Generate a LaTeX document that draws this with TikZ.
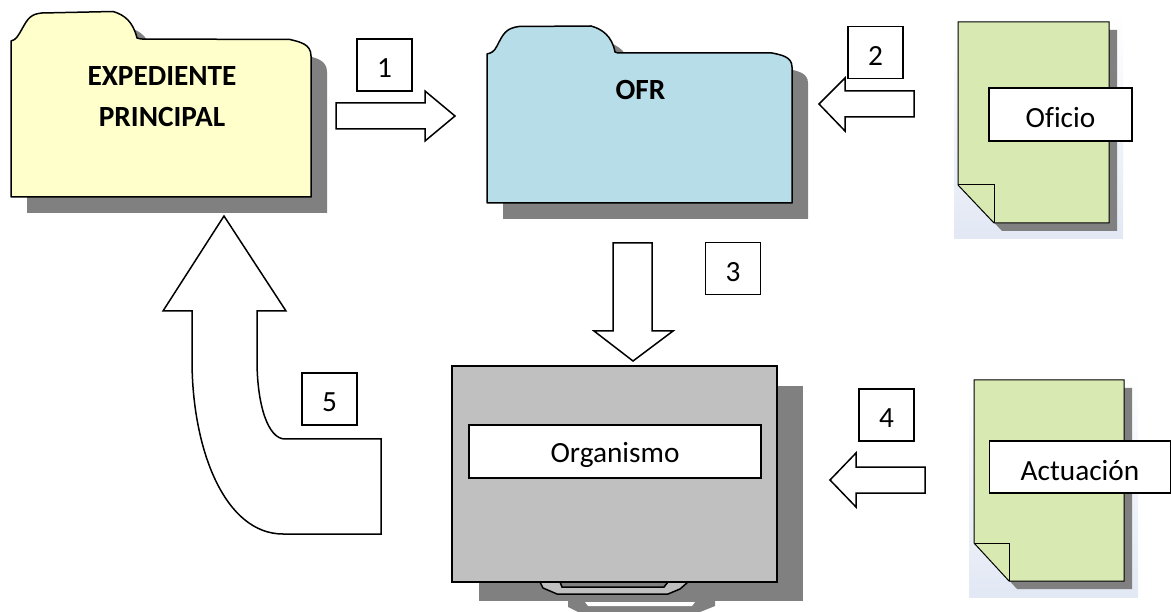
\documentclass[tikz,border=0pt]{standalone}
\usepackage{fontspec}
\setmainfont[Ligatures=NoCommon]{Carlito}
\definecolor{shadowgray}{HTML}{808080}
\definecolor{folderyellow}{HTML}{FFFFCC}
\definecolor{folderblue}{HTML}{B7DDE8}
\definecolor{docgreen}{HTML}{D8E9B2}
\definecolor{monitorgray}{HTML}{C0C0C0}
\definecolor{halomid}{HTML}{C3D3EA}
\definecolor{halolow}{HTML}{E2E8F4}
\def\folderA{(11,41) .. controls (16,40) and (18,36) .. (22,29) .. controls (28,18) and (31,14) .. (42,13) -- (113,11.5) .. controls (125,15) and (133,22) .. (137,38) -- (141,39) -- (290,39.5) .. controls (300,42) and (311,44) .. (311,56) -- (311,197) -- (11,197) -- cycle}
\def\folderB{(487,54) .. controls (491,53) and (494,52) .. (497,46) .. controls (503,34) and (506,28) .. (519,26.5) -- (591,26) .. controls (602,29) and (612,36) .. (615,52) -- (618,53) -- (772,53) .. controls (782,55) and (792,57) .. (792,67) -- (792,203) -- (487,203) -- cycle}
\def\docA{(958,22) -- (1109,22) -- (1109,223) -- (994,223) -- (958,185) -- cycle}
\def\docB{(974,380) -- (1124,380) -- (1124,581) -- (1009,581) -- (974,543) -- cycle}
\newcommand{\lowtext}[1]{\raisebox{-3.5pt}[\height][\depth]{#1}}
\tikzset{
  shadowfill/.style={fill=shadowgray},
  folderline/.style={draw=black,line width=1.5pt,line join=round},
  docline/.style={draw=black,line width=1pt,line join=miter},
  blockarrow/.style={draw=black,fill=white,line width=1.5pt,line join=miter},
  numbox/.style={draw=black,fill=white,line width=1.4pt,minimum width=55pt,minimum height=52pt,inner sep=0pt,font=\fontsize{29.3}{34}\selectfont},
  labelbox/.style={draw=black,fill=white,line width=1.5pt,inner sep=0pt,font=\fontsize{29.3}{34}\selectfont},
  foldertext/.style={align=center,inner sep=0pt,font=\fontsize{29.3}{41}\selectfont\bfseries},
  halo/.style={top color=white,middle color=halomid,bottom color=halolow}
}
\begin{document}
\begin{tikzpicture}[x=1pt,y=-1pt]
\useasboundingbox (0,0) rectangle (1171,612);
% yellow folder
\fill[shadowfill,shift={(16,16)}] \folderA;
\path[folderline,fill=folderyellow] \folderA;
\node[foldertext] (expediente) at (162,96.5) {EXPEDIENTE\\PRINCIPAL};
% blue folder
\fill[shadowfill,shift={(16,16)}] \folderB;
\path[folderline,fill=folderblue] \folderB;
\node[foldertext] (ofr) at (640.5,90) {OFR};
% document Oficio
\shade[halo] (954,14) rectangle (1123,239);
\fill[shadowfill,shift={(8,8)}] \docA;
\path[docline,fill=docgreen] \docA;
\draw[docline] (958,185) -- (994,185) -- (994,223);
\node[labelbox,minimum width=143pt,minimum height=53pt] (oficio) at (1060.5,114.5) {\lowtext{Oficio}};
% document Actuacion
\shade[halo] (969,372) rectangle (1138,597);
\fill[shadowfill,shift={(8,8)}] \docB;
\path[docline,fill=docgreen] \docB;
\draw[docline] (974,543) -- (1009,543) -- (1009,581);
\node[labelbox,minimum width=181pt,minimum height=52pt] (actuacion) at (1080,467) {\lowtext{Actuación}};
% monitor
\fill[shadowfill] (479,386) rectangle (803,601);
\fill[shadowfill] (568,600) -- (568,607) -- (578,612) -- (700,612) -- (715,606) -- (715,600) -- cycle;
\fill[white] (585,602) -- (588,606) -- (692,606) -- (695,602) -- cycle;
\path[draw=black,line width=1.5pt,fill=monitorgray,line join=miter] (540,582) -- (543,588) -- (557,594) -- (668,594) -- (680,589) -- (688,582) -- cycle;
\path[draw=black,line width=1.5pt,fill=shadowgray] (560,582) -- (562,587) -- (664,587) -- (668,582) -- cycle;
\path[draw=black,line width=2.5pt,fill=monitorgray] (452,366) rectangle (777,582);
\node[labelbox,minimum width=292pt,minimum height=53pt] (organismo) at (615,451.5) {\lowtext{Organismo}};
% block arrows
\path[blockarrow] (336,103) -- (425,103) -- (425,91) -- (455,116) -- (425,141) -- (425,129) -- (336,129) -- cycle;
\path[blockarrow] (914,91) -- (845,91) -- (845,78) -- (819,104) -- (845,131) -- (845,117) -- (914,117) -- cycle;
\path[blockarrow] (613,243) -- (652,243) -- (652,331) -- (673,331) -- (633,361) -- (594,331) -- (613,331) -- cycle;
\path[blockarrow] (925,467) -- (856,467) -- (856,453) -- (830,480) -- (856,507) -- (856,493) -- (925,493) -- cycle;
\path[blockarrow] (224,216) -- (286,311) -- (257,311) -- (257,360) .. controls (257,405) and (268,439) .. (285,439) -- (381,439) -- (381,534) -- (283,534) .. controls (225,534) and (192,450) .. (192,360) -- (192,311) -- (163,311) -- cycle;
% number boxes
\node[numbox] (n1) at (384.5,65) {\lowtext{1}};
\node[numbox] (n2) at (875.5,52.5) {\lowtext{2}};
\node[numbox] (n3) at (733,268.5) {\lowtext{3}};
\node[numbox] (n4) at (886.5,415) {\lowtext{4}};
\node[numbox] (n5) at (329.5,399) {\lowtext{5}};
\end{tikzpicture}
\end{document}
